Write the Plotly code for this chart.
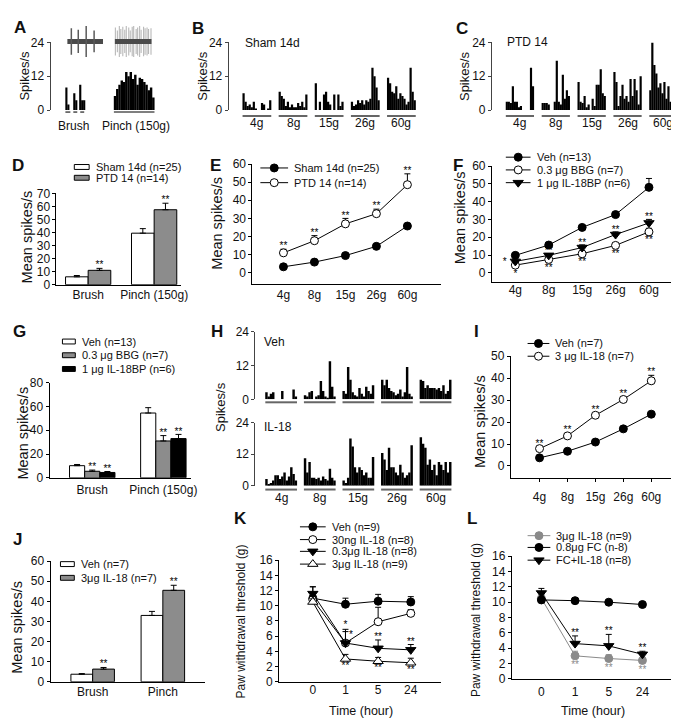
import plotly.graph_objects as go

W, H = 679, 719
FONT = "Liberation Sans, Arial, Helvetica, sans-serif"
TXT = "#111111"

# ================= DATA =================
force_labels = ["4g", "8g", "15g", "26g", "60g"]
time_labels = ["0", "1", "5", "24"]

# Panel A (single unit example)
A_brush_hist = [8, 2, 0, 0, 6, 3.5, 0, 9, 3.5, 3.5]
A_pinch_hist = [5, 7.5, 9, 10.5, 10, 13.5, 12, 13.5, 11, 12.5, 9, 11.5, 11, 10, 9, 7, 8, 4.5]
A_brush_spike_t = [21, 28, 36, 44]
A_brush_spike_amp = [0.85, 0.75, 1.0, 0.7]
A_pinch_spike_t = [65.5, 67.5, 69.5, 71, 73, 75, 76.5, 79, 80.5, 82.5, 84, 86.5, 88, 90, 91.5,
                   94, 95.5, 97.5, 99, 101.5]
A_pinch_spike_amp = [0.9, 0.7, 1.0, 0.8, 0.95, 0.75, 1.0, 0.9, 0.7, 0.95, 1.0, 0.8, 0.9, 1.0,
                     0.75, 0.95, 0.85, 0.9, 0.8, 0.85]

# Panel B (Sham 14d)
B_4g = [6, 3, 1.5, 2, 1, 3, 0.5, 0, 0, 2.5, 2, 0, 0.5, 3.5]
B_8g = [6.5, 5, 4, 1.5, 3, 1, 2, 1, 1, 2.5, 1.5, 3, 1, 5.5]
B_15g = [9.5, 0, 3, 0, 5.5, 6.5, 3, 2, 0, 5.5, 0, 5.5, 1.5, 3]
B_26g = [3, 1.5, 2, 3.5, 2.5, 3.5, 2, 3.5, 3, 4, 15, 12, 8, 3.5]
B_60g = [11.5, 9.5, 6.5, 6, 8.5, 4, 6, 5, 4, 2, 3, 15, 6.5, 3.5]

# Panel C (PTD 14)
C_4g = [3, 3, 2.5, 8.5, 3, 3, 1, 1.5, 0, 0, 0, 0, 15, 8.5]
C_8g = [2.5, 2.5, 2.5, 2, 0, 0, 3, 17.5, 3, 2, 12.5, 4, 7, 5]
C_15g = [10, 3, 2.5, 5, 1, 2, 0, 4, 1.5, 9, 9, 14.5, 6, 5]
C_26g = [13.5, 10, 1.5, 5, 9, 4, 5, 3, 11, 5, 11, 7, 2, 12]
C_60g = [7, 24, 16, 13, 8, 9.5, 6, 10, 4, 8.5, 3, 5, 3, 7]

# Panel D
D_categories = ["Brush", "Pinch (150g)"]
D_sham = [6, 39.5]
D_sham_err = [1, 3.5]
D_ptd = [11, 57.5]
D_ptd_err = [1.5, 5]

# Panel E
E_sham = [3.3, 5.9, 9.5, 14.6, 25.8]
E_sham_err = [0.4, 0.5, 0.6, 0.8, 1.3]
E_ptd = [11, 17.7, 27, 32.6, 48.6]
E_ptd_err = [2, 2.8, 3, 2.5, 6]

# Panel F
F_veh = [9.8, 15.6, 25.5, 32.7, 48]
F_veh_err = [0.8, 1, 1, 1, 5]
F_bbg = [4.3, 7.5, 10.7, 15.4, 23]
F_bbg_err = [0.8, 1, 1.3, 1.3, 2]
F_bp = [6.4, 9.8, 14.2, 21.5, 28]
F_bp_err = [0.8, 1, 1.5, 1.5, 2]

# Panel G
G_categories = ["Brush", "Pinch (150g)"]
G_veh = [10.2, 54.5]
G_veh_err = [1, 4.5]
G_bbg = [5.5, 31]
G_bbg_err = [1, 4.5]
G_bp = [4.5, 33]
G_bp_err = [0.8, 3.5]

# Panel H
H_veh_4g = [2.5, 1, 2, 2.5, 0, 0, 0, 3, 0, 0, 0, 0, 3.5, 1]
H_veh_8g = [1.5, 1, 2.5, 3, 0, 1, 1.5, 6.5, 3, 1, 0.5, 13.5, 4.5, 1]
H_veh_15g = [3, 2, 11.5, 7, 2.5, 1.5, 1, 4, 2, 1, 4.5, 3, 2, 5]
H_veh_26g = [7, 5, 7, 4, 3, 2.5, 1.5, 2, 3.5, 1, 2.5, 11.5, 2, 1]
H_veh_60g = [7, 6.5, 4, 5, 4, 4, 4, 3.5, 4, 3, 5, 2, 3, 7]
H_il18_4g = [2.5, 0.5, 1, 2, 4, 4, 2.5, 3.5, 5, 2, 3.5, 7, 4.5, 2]
H_il18_8g = [10.5, 5, 9, 3, 3, 2.5, 3, 2, 3.5, 2.5, 2, 6.5, 3, 2]
H_il18_15g = [2, 1, 3, 18, 15, 7, 5, 7, 6, 4, 5, 3, 3, 11]
H_il18_26g = [12.5, 10, 6, 14.5, 7, 7, 5, 4, 8, 5, 3, 4, 5, 15.5]
H_il18_60g = [18.5, 16, 14.5, 8, 10, 6, 8, 4, 9, 8, 6, 9, 5, 9]

# Panel I
I_veh = [3.7, 6.7, 10.9, 16.9, 23.6]
I_veh_err = [0.4, 0.5, 0.6, 0.7, 0.8]
I_il18 = [7.9, 13.7, 23.1, 30.3, 38.8]
I_il18_err = [0.8, 1, 1, 1.2, 2.5]

# Panel J
J_categories = ["Brush", "Pinch"]
J_veh = [3.75, 33]
J_veh_err = [0.3, 2]
J_il18 = [6.3, 45.5]
J_il18_err = [0.8, 2.5]

# Panel K
K_veh = [11.0, 10.2, 10.6, 10.5]
K_veh_err = [1.5, 0.8, 0.9, 0.7]
K_30ng = [10.8, 5.1, 7.9, 9.0]
K_30ng_err = [0.3, 1.8, 1.9, 0.5]
K_03ug = [11.6, 5.1, 4.4, 4.2]
K_03ug_err = [0.9, 1.5, 1.1, 0.7]
K_3ug = [10.5, 3.0, 2.7, 2.5]
K_3ug_err = [0.4, 0.6, 0.5, 0.6]

# Panel L
L_il18 = [10.5, 3.0, 2.65, 2.4]
L_il18_err = [0.5, 0.6, 0.5, 0.4]
L_fc = [10.3, 10.2, 10.0, 9.7]
L_fc_err = [0.3, 0.2, 0.2, 0.2]
L_fcil = [11.2, 4.6, 4.3, 3.2]
L_fcil_err = [0.6, 1.0, 1.5, 0.4]

# ================= BUILD =================
fig = go.Figure()
axes = {}
shapes = []
anns = []
scales = {}


def PX(x):
    return x / W


def PY(y):
    return 1 - y / H


def add_axes(n, x0, x1, ytop, ybot, xr, yr, xkw=None, ykw=None):
    sx = "" if n == 1 else str(n)
    base = dict(showgrid=False, zeroline=False, fixedrange=True)
    xa = dict(base, domain=[PX(x0), PX(x1)], range=xr, anchor="y" + sx)
    ya = dict(base, domain=[PY(ybot), PY(ytop)], range=yr, anchor="x" + sx)
    xa.update(xkw or {})
    ya.update(ykw or {})
    axes["xaxis" + sx] = xa
    axes["yaxis" + sx] = ya
    scales["y" + sx] = (ybot - ytop) / (yr[1] - yr[0])
    return "x" + sx, "y" + sx


HIDDEN = dict(visible=False)


def ystyle(vals, color="black", size=12):
    return dict(showline=True, linecolor=color, linewidth=1, ticks="outside", ticklen=3,
                tickwidth=1, tickcolor=color, tickmode="array", tickvals=list(vals),
                tickfont=dict(family=FONT, size=size, color=TXT))


def xstyle(vals, texts, standoff=0, ticks="", size=12):
    return dict(showline=True, linecolor="black", linewidth=1, ticks=ticks, ticklen=3,
                tickwidth=1, tickcolor="black", tickmode="array", tickvals=list(vals),
                ticktext=texts, tickfont=dict(family=FONT, size=size, color=TXT),
                ticklabelstandoff=standoff)


def ann(x, y, text, size=12, xanchor="center", angle=0, bold=False, color=TXT):
    anns.append(dict(x=PX(x), y=PY(y), xref="paper", yref="paper",
                     text=f"<b>{text}</b>" if bold else text, showarrow=False,
                     xanchor=xanchor, yanchor="middle", textangle=angle,
                     font=dict(family=FONT, size=size, color=color)))


def pline(x0, x1, y, color="#555555", width=1.6):
    shapes.append(dict(type="line", xref="paper", yref="paper", x0=PX(x0), x1=PX(x1),
                       y0=PY(y), y1=PY(y), line=dict(color=color, width=width)))


def hist_bars(xid, yid, groups, offset, stride, gw):
    xs, ys, ws = [], [], []
    for i, g in enumerate(groups):
        bw = gw / len(g)
        start = offset + i * stride
        for j, v in enumerate(g):
            xs.append(start + (j + 0.5) * bw)
            ys.append(v)
            ws.append(bw * 1.08)
    fig.add_trace(go.Bar(x=xs, y=ys, width=ws, marker=dict(color="black", line=dict(width=0)),
                         xaxis=xid, yaxis=yid, showlegend=False, hoverinfo="skip"))


def hist_panel(n, axis_px, right_px, ytop, ybot, groups, offset, stride, gw, ul_y,
               label_y=None, labels=None):
    xid, yid = add_axes(n, axis_px, right_px, ytop, ybot, [0, right_px - axis_px], [0, 24],
                        HIDDEN, ystyle([0, 12, 24], color="#444444"))
    hist_bars(xid, yid, groups, offset, stride, gw)
    for i in range(len(groups)):
        start = axis_px + offset + i * stride
        pline(start, start + gw, ul_y, "#666666", 2)
        if labels:
            ann(start + gw / 2, label_y, labels[i], 12)
    return xid, yid


def series(xid, yid, vals, err, symbol, fill, mline="black", lcolor="black", size=8):
    n = len(vals)
    fig.add_trace(go.Scatter(
        x=list(range(n)), y=vals, mode="lines+markers",
        line=dict(color=lcolor, width=1),
        marker=dict(symbol=symbol, size=size, color=fill, line=dict(color=mline, width=1)),
        error_y=dict(type="data", array=err, arrayminus=[0] * n, symmetric=False,
                     color=lcolor, thickness=1, width=3),
        xaxis=xid, yaxis=yid, showlegend=False, cliponaxis=False, hoverinfo="skip"))


def bars(xid, yid, vals, err, offset, width, fill):
    n = len(vals)
    fig.add_trace(go.Bar(
        x=list(range(n)), y=vals, width=width, offset=offset,
        marker=dict(color=fill, line=dict(color="black", width=1)),
        error_y=dict(type="data", array=err, arrayminus=[0] * n, symmetric=False,
                     color="black", thickness=1, width=3),
        xaxis=xid, yaxis=yid, showlegend=False, hoverinfo="skip"))


def stars(xid, yid, xs, ys, texts, color="black"):
    # shift so the asterisk glyph centre lands on the requested value
    s = scales[yid]
    fig.add_trace(go.Scatter(
        x=xs, y=[v - 2.3 / s for v in ys], mode="text", text=texts, textposition="middle center",
        textfont=dict(family=FONT, size=10, color=color),
        xaxis=xid, yaxis=yid, showlegend=False, cliponaxis=False, hoverinfo="skip"))


def above(vals, err, pad):
    return [v + e + pad for v, e in zip(vals, err)]


# ---------- Panel A ----------
xA, yA = add_axes(1, 43, 155, 28, 97, [0, 112], [0, 24], HIDDEN, ystyle([0, 12, 24], "#444444"))
A_brush_start, A_brush_bw = 15, 2.0
A_pinch_start, A_pinch_bw = 64, 41 / len(A_pinch_hist)
fig.add_trace(go.Bar(x=[A_brush_start + (j + 0.5) * A_brush_bw for j in range(len(A_brush_hist))],
                     y=A_brush_hist, width=A_brush_bw * 1.08,
                     marker=dict(color="black", line=dict(width=0)),
                     xaxis=xA, yaxis=yA, showlegend=False, hoverinfo="skip"))
fig.add_trace(go.Bar(x=[A_pinch_start + (j + 0.5) * A_pinch_bw for j in range(len(A_pinch_hist))],
                     y=A_pinch_hist, width=A_pinch_bw * 1.08,
                     marker=dict(color="black", line=dict(width=0)),
                     xaxis=xA, yaxis=yA, showlegend=False, hoverinfo="skip"))

xW, yW = add_axes(2, 43, 155, 8, 46, [0, 112], [-1.2, 1.2], HIDDEN, HIDDEN)


def spike_xy(ts, amps):
    xs, ys = [], []
    for t, a in zip(ts, amps):
        xs += [t, t, None]
        ys += [-a, a, None]
    return xs, ys


px_, py_ = spike_xy(A_pinch_spike_t, A_pinch_spike_amp)
fig.add_trace(go.Scatter(x=px_, y=py_, mode="lines", line=dict(color="#b8b8b8", width=1.1),
                         xaxis=xW, yaxis=yW, showlegend=False, hoverinfo="skip"))
fig.add_trace(go.Scatter(x=[65, 102], y=[0, 0], mode="lines", line=dict(color="#4a4a4a", width=5),
                         xaxis=xW, yaxis=yW, showlegend=False, hoverinfo="skip"))
fig.add_trace(go.Scatter(x=[17, 53], y=[0, 0], mode="lines", line=dict(color="#4a4a4a", width=5),
                         xaxis=xW, yaxis=yW, showlegend=False, hoverinfo="skip"))
bx_, by_ = spike_xy(A_brush_spike_t, A_brush_spike_amp)
fig.add_trace(go.Scatter(x=bx_, y=by_, mode="lines", line=dict(color="#5a5a5a", width=1.5),
                         xaxis=xW, yaxis=yW, showlegend=False, hoverinfo="skip"))
for a, b in [(58, 63), (66, 70), (73, 77)]:
    pline(a, b, 99, "#555555", 1.6)
pline(107, 148, 99, "#555555", 1.6)
ann(66, 113, "Brush", 12)
ann(129, 113, "Pinch (150g)", 12)
ann(17, 62, "Spikes/s", 13, angle=-90)
ann(12, 13, "A", 17, bold=True)

# ---------- Panel B ----------
hist_panel(3, 223, 414, 28, 97, [B_4g, B_8g, B_15g, B_26g, B_60g], 14, 36.5, 29, 103, 110,
           force_labels)
ann(237, 29, "Sham 14d", 12, xanchor="left")
ann(197, 62, "Spikes/s", 13, angle=-90)
ann(192, 14, "B", 17, bold=True)

# ---------- Panel C ----------
hist_panel(4, 489, 679, 28, 97, [C_4g, C_8g, C_15g, C_26g, C_60g], 14, 36.25, 28.5, 103, 110,
           force_labels)
ann(502, 28, "PTD 14", 12, xanchor="left")
ann(462, 62, "Spikes/s", 13, angle=-90)
ann(459, 14, "C", 17, bold=True)

# ---------- Panel D ----------
xD, yD = add_axes(5, 49, 175, 182, 275, [-0.48, 1.41], [0, 70],
                  xstyle([0, 1], D_categories, -1), ystyle(range(0, 71, 10)))
bw_D = 0.343
bars(xD, yD, D_sham, D_sham_err, -bw_D, bw_D, "white")
bars(xD, yD, D_ptd, D_ptd_err, 0, bw_D, "#8c8c8c")
stars(xD, yD, [i + bw_D / 2 for i in range(2)], above(D_ptd, D_ptd_err, 4), ["**", "**"])
ann(19, 226, "Mean spikes/s", 14.5, angle=-90)
ann(10, 153, "D", 17, bold=True)

# ---------- Panel E ----------
xE, yE = add_axes(6, 247, 438, 152, 274, [-1, 5.1], [-6, 60],
                  xstyle(range(5), force_labels, 0), ystyle(range(0, 61, 10)))
series(xE, yE, E_sham, E_sham_err, "circle", "black")
series(xE, yE, E_ptd, E_ptd_err, "circle", "white")
stars(xE, yE, list(range(5)), above(E_ptd, E_ptd_err, 2.5), ["**"] * 5)
ann(211, 212, "Mean spikes/s", 14.5, angle=-90)
ann(210, 153, "E", 17, bold=True)

# ---------- Panel F ----------
xF, yF = add_axes(7, 489, 677, 154, 272, [-0.7, 4.87], [-5, 60],
                  xstyle(range(5), force_labels, -3), ystyle(range(0, 61, 10)))
series(xF, yF, F_veh, F_veh_err, "circle", "black")
series(xF, yF, F_bbg, F_bbg_err, "circle", "white")
series(xF, yF, F_bp, F_bp_err, "triangle-down", "black", size=9)
stars(xF, yF, [-0.32] + list(range(1, 5)),
      [F_bp[0] + 0.8] + above(F_bp, F_bp_err, 2.2)[1:], ["*", "**", "**", "**", "**"])
stars(xF, yF, list(range(5)), [v - 3.8 for v in F_bbg], ["*", "**", "**", "**", "**"])
ann(457, 207, "Mean spikes/s", 14.5, angle=-90)
ann(455, 153, "F", 17, bold=True)

# ---------- Panel G ----------
xG, yG = add_axes(8, 42, 185, 375, 472, [-0.6, 1.39], [0, 80],
                  xstyle([0, 1], G_categories, 1), ystyle(range(0, 81, 20)))
bw_G = 0.213
bars(xG, yG, G_veh, G_veh_err, -1.5 * bw_G, bw_G, "white")
bars(xG, yG, G_bbg, G_bbg_err, -0.5 * bw_G, bw_G, "#8c8c8c")
bars(xG, yG, G_bp, G_bp_err, 0.5 * bw_G, bw_G, "black")
stars(xG, yG, [0, 1], above(G_bbg, G_bbg_err, 3.7), ["**", "**"])
stars(xG, yG, [i + bw_G for i in range(2)], above(G_bp, G_bp_err, 3.5), ["**", "**"])
ann(15, 426, "Mean spikes/s", 14.5, angle=-90)
ann(12, 323, "G", 17, bold=True)

# ---------- Panel H ----------
hist_panel(9, 250, 452, 323, 392, [H_veh_4g, H_veh_8g, H_veh_15g, H_veh_26g, H_veh_60g],
           10, 39, 32, 395)
hist_panel(10, 250, 452, 416, 480, [H_il18_4g, H_il18_8g, H_il18_15g, H_il18_26g, H_il18_60g],
           10, 39, 32, 484, 493, force_labels)
ann(257, 334, "Veh", 12, xanchor="left")
ann(257, 420, "IL-18", 12, xanchor="left")
ann(214, 400, "Spikes/s", 13, angle=-90)
ann(211, 323, "H", 17, bold=True)

# ---------- Panel I ----------
xI, yI = add_axes(11, 508, 672, 348, 472, [-1.03, 4.78], [-5.4, 50],
                  xstyle(range(5), force_labels, 5, ticks="outside"), ystyle(range(0, 51, 10)))
series(xI, yI, I_veh, I_veh_err, "circle", "black")
series(xI, yI, I_il18, I_il18_err, "circle", "white")
stars(xI, yI, list(range(5)), above(I_il18, I_il18_err, 2.3), ["**"] * 5)
ann(477, 415, "Mean spikes/s", 14.5, angle=-90)
ann(473, 323, "I", 17, bold=True)

# ---------- Panel J ----------
xJ, yJ = add_axes(12, 43, 199, 557, 680, [-0.6, 1.6], [0, 60],
                  xstyle([0, 1], J_categories, -1), ystyle(range(0, 61, 10)))
bw_J = 0.31
bars(xJ, yJ, J_veh, J_veh_err, -bw_J, bw_J, "white")
bars(xJ, yJ, J_il18, J_il18_err, 0, bw_J, "#8c8c8c")
stars(xJ, yJ, [i + bw_J / 2 for i in range(2)], above(J_il18, J_il18_err, 2.5), ["**", "**"])
ann(9, 624, "Mean spikes/s", 14.5, angle=-90)
ann(10, 535, "J", 17, bold=True)

# ---------- Panel K ----------
xK, yK = add_axes(13, 274, 438, 556, 680, [-1.03, 3.94], [0, 16],
                  xstyle(range(4), time_labels, -3), ystyle(range(0, 17, 2)))
series(xK, yK, K_veh, K_veh_err, "circle", "black")
series(xK, yK, K_30ng, K_30ng_err, "circle", "white")
series(xK, yK, K_03ug, K_03ug_err, "triangle-down", "black", size=9)
series(xK, yK, K_3ug, K_3ug_err, "triangle-up", "white", size=9)
stars(xK, yK, [1], above(K_30ng, K_30ng_err, 0.75)[1:2], ["*"])
stars(xK, yK, [1.17, 2, 3], [K_03ug[1] + 1.3] + above(K_03ug, K_03ug_err, 0.6)[2:],
      ["*", "**", "**"])
stars(xK, yK, [1, 2, 3], [v - 0.7 for v in K_3ug[1:]], ["**", "**", "**"])
ann(235, 619, "Paw withdrawal threshold (g)", 12, angle=-90)
ann(357, 710, "Time (hour)", 12.5)
ann(235, 514, "K", 17, bold=True)

# ---------- Panel L ----------
xL, yL = add_axes(14, 509, 671, 552, 677, [-0.88, 3.88], [0, 16],
                  xstyle(range(4), time_labels, 2), ystyle(range(0, 17, 2)))
series(xL, yL, L_il18, L_il18_err, "circle", "#8a8a8a", mline="#8a8a8a", lcolor="#8a8a8a")
series(xL, yL, L_fc, L_fc_err, "circle", "black")
series(xL, yL, L_fcil, L_fcil_err, "triangle-down", "black", size=9)
stars(xL, yL, [1, 2, 3], above(L_fcil, L_fcil_err, 0.65)[1:], ["**", "**", "**"])
stars(xL, yL, [1, 2, 3], [v - 1.0 for v in L_il18[1:]], ["**", "**", "**"], color="#8a8a8a")
ann(473, 617, "Paw withdrawal threshold (g)", 12, angle=-90)
ann(591, 710, "Time (hour)", 12.5)
ann(469, 514, "L", 17, bold=True)

# ---------- Legends (overlay axis in pixel units) ----------
xO, yO = add_axes(15, 0, W, 0, H, [0, W], [H, 0], HIDDEN, HIDDEN)


def leg_line(x0, x1, y, text, symbol, fill, mline="black", lcolor="black", size=8):
    fig.add_trace(go.Scatter(x=[x0, x1], y=[y, y], mode="lines", line=dict(color=lcolor, width=1),
                             xaxis=xO, yaxis=yO, showlegend=False, hoverinfo="skip"))
    fig.add_trace(go.Scatter(x=[(x0 + x1) / 2], y=[y], mode="markers",
                             marker=dict(symbol=symbol, size=size, color=fill,
                                         line=dict(color=mline, width=1)),
                             xaxis=xO, yaxis=yO, showlegend=False, hoverinfo="skip"))
    ann(x1 + 4, y, text, 11, xanchor="left")


def leg_box(x0, x1, y, text, fill):
    shapes.append(dict(type="rect", xref="paper", yref="paper", x0=PX(x0), x1=PX(x1),
                       y0=PY(y + 2.5), y1=PY(y - 2.5), fillcolor=fill,
                       line=dict(color="black", width=1)))
    ann(x1 + 5, y, text, 11, xanchor="left")


leg_box(67, 82, 155, "Sham 14d (n=25)", "white")
leg_box(67, 82, 166, "PTD 14 (n=14)", "#8c8c8c")

leg_line(255, 283, 156, "Sham 14d (n=25)", "circle", "black")
leg_line(255, 283, 171, "PTD 14 (n=14)", "circle", "white")

leg_line(503, 528, 145, "Veh (n=13)", "circle", "black")
leg_line(503, 528, 158, "0.3 μg BBG (n=7)", "circle", "white")
leg_line(503, 528, 171, "1 μg IL-18BP (n=6)", "triangle-down", "black", size=9)

leg_box(55, 68, 333, "Veh (n=13)", "white")
leg_box(55, 68, 347, "0.3 μg BBG (n=7)", "#8c8c8c")
leg_box(55, 68, 361, "1 μg IL-18BP (n=6)", "black")

leg_line(525, 547, 335, "Veh (n=7)", "circle", "black")
leg_line(525, 547, 348, "3 μg IL-18 (n=7)", "circle", "white")

leg_box(53, 67, 560, "Veh (n=7)", "white")
leg_box(53, 67, 574, "3μg IL-18 (n=7)", "#8c8c8c")

leg_line(295, 321, 522, "Veh (n=9)", "circle", "black")
leg_line(295, 321, 535, "30ng IL-18 (n=8)", "circle", "white")
leg_line(295, 321, 547, "0.3μg IL-18 (n=8)", "triangle-down", "black", size=9)
leg_line(295, 321, 560, "3μg IL-18 (n=9)", "triangle-up", "white", size=9)

leg_line(525, 548, 531, "3μg IL-18 (n=9)", "circle", "#8a8a8a", mline="#8a8a8a", lcolor="#8a8a8a")
leg_line(525, 548, 543, "0.8μg FC (n-8)", "circle", "black")
leg_line(525, 548, 556, "FC+IL-18 (n=8)", "triangle-down", "black", size=9)

fig.update_layout(
    width=W, height=H, margin=dict(l=0, r=0, t=0, b=0),
    paper_bgcolor="white", plot_bgcolor="rgba(0,0,0,0)",
    barmode="overlay", showlegend=False,
    font=dict(family=FONT, size=12, color=TXT),
    shapes=shapes, annotations=anns, **axes,
)
fig.write_html("out.html")
